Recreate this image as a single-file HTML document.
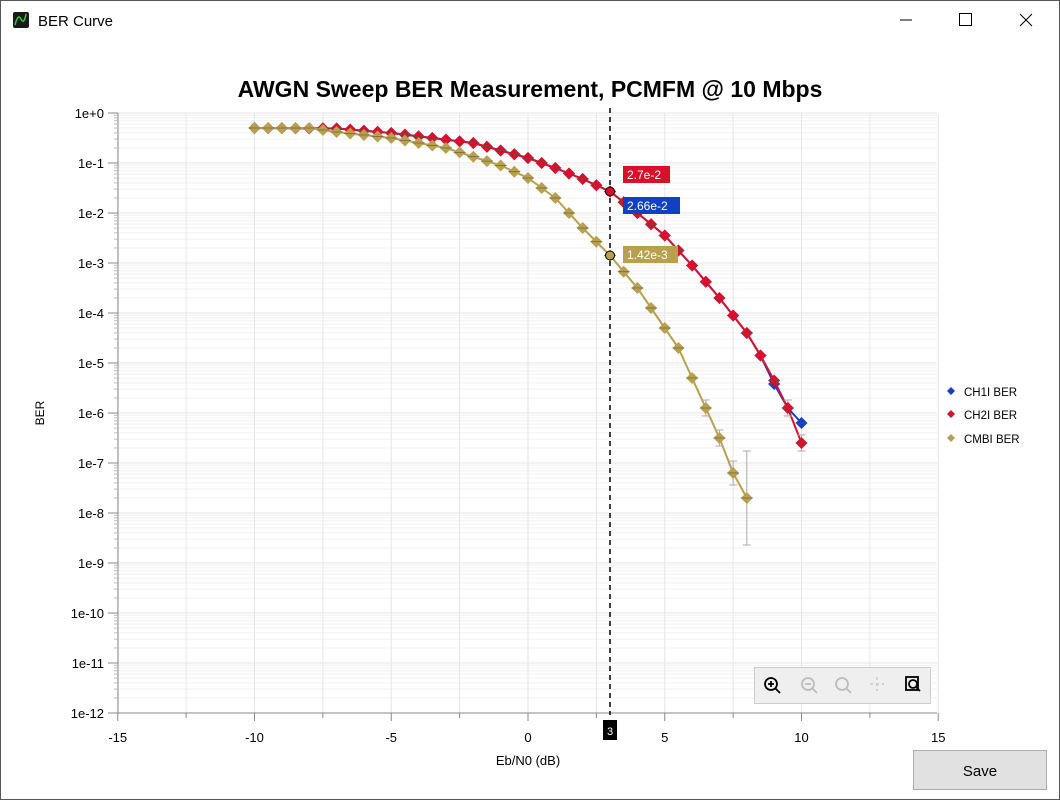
<!DOCTYPE html>
<html><head><meta charset="utf-8">
<style>
html,body{margin:0;padding:0;background:#fff;width:1060px;height:800px;overflow:hidden;font-family:"Liberation Sans",sans-serif;}
</style></head><body>
<svg id="s" width="1060" height="800" xmlns="http://www.w3.org/2000/svg" font-family="Liberation Sans, sans-serif">
<rect x="0.5" y="0.5" width="1059" height="799" fill="#fff" stroke="#555"/>
<rect x="13" y="12" width="16" height="16" rx="2" fill="#1a1a1a"/>
<path d="M15 25 q3 -12 6 -6 t5 -5" stroke="#3c3" stroke-width="1.5" fill="none"/>
<text x="38" y="26" font-size="15" fill="#000">BER Curve</text>
<line x1="900" y1="20" x2="912" y2="20" stroke="#000"/>
<rect x="959.5" y="13.5" width="12" height="12" fill="none" stroke="#000"/>
<path d="M1020 14 l12 12 M1032 14 l-12 12" stroke="#000"/>
<text x="530" y="97" font-size="23" font-weight="bold" text-anchor="middle" fill="#000">AWGN Sweep BER Measurement, PCMFM @ 10 Mbps</text>
<g id="grid"></g>
<g id="axes"></g>
<g id="data"></g>
<text transform="translate(44,413) rotate(-90)" font-size="12" text-anchor="middle" fill="#000">BER</text>
<text x="528" y="765" font-size="13" text-anchor="middle" fill="#000">Eb/N0 (dB)</text>
<g font-size="11.5" fill="#000">
<path d="M951 387 l4 4 -4 4 -4 -4z" fill="#1240c0"/><text x="964" y="396">CH1I BER</text>
<path d="M951 410 l4 4 -4 4 -4 -4z" fill="#d8102a"/><text x="964" y="419">CH2I BER</text>
<path d="M951 434 l4 4 -4 4 -4 -4z" fill="#b9a04e"/><text x="964" y="443">CMBI BER</text>
</g>
<rect x="754.5" y="667.5" width="176" height="36" fill="#efefef" stroke="#ccc"/>
<g fill="none" stroke-width="1.8">
<circle cx="771" cy="684" r="6" stroke="#000"/><path d="M775 688 l5 5 M768 684 h6 M771 681 v6" stroke="#000"/>
<circle cx="808" cy="684" r="6" stroke="#bbb"/><path d="M812 688 l5 5 M805 684 h6" stroke="#bbb"/>
<circle cx="842" cy="684" r="6" stroke="#bbb"/><path d="M846 688 l5 5" stroke="#bbb"/>
<path d="M877 677 v14 M870 684 h14" stroke="#ccc" stroke-dasharray="3 3"/>
<rect x="906" y="677" width="12" height="13" stroke="#000"/><circle cx="913" cy="684" r="4" stroke="#000"/><path d="M916 687 l4 4" stroke="#000"/>
</g>
<rect x="913.5" y="750.5" width="133" height="39" fill="#e1e1e1" stroke="#adadad"/>
<text x="980" y="776" font-size="15" text-anchor="middle" fill="#000">Save</text>
</svg>
<script>
const NS="http://www.w3.org/2000/svg";
function el(p,t,a,txt){const e=document.createElementNS(NS,t);for(const k in a)e.setAttribute(k,a[k]);if(txt!==undefined)e.textContent=txt;document.getElementById(p).appendChild(e);return e;}
const X=x=>528+x*27.35, Y=l=>113-l*50;
const L=118,R=937,T=113,B=713;
// grid
for(let d=0;d<12;d++){for(let m=2;m<=9;m++){const y=Y(-d-1+Math.log10(m));el("grid","line",{x1:L,x2:R,y1:y,y2:y,stroke:"#f0f0f0"});}
el("grid","line",{x1:L,x2:R,y1:Y(-d),y2:Y(-d),stroke:"#e6e6e6"});}
for(let v=-15;v<=15;v+=2.5){el("grid","line",{x1:X(v),x2:X(v),y1:T,y2:B,stroke:"#e6e6e6"});}
// axes
el("axes","line",{x1:L,x2:L,y1:T,y2:B,stroke:"#888"});
el("axes","line",{x1:L,x2:R,y1:B,y2:B,stroke:"#888"});
for(let d=0;d<=12;d++){const y=Y(-d);el("axes","line",{x1:L-10,x2:L,y1:y,y2:y,stroke:"#888"});
el("axes","text",{x:L-14,y:y+5,"font-size":13,"text-anchor":"end",fill:"#000"},d==0?"1e+0":"1e-"+d);
if(d<12)for(let m=2;m<=9;m++){const yy=Y(-d-1+Math.log10(m));el("axes","line",{x1:L-4,x2:L,y1:yy,y2:yy,stroke:"#bbb"});}}
for(let v=-15;v<=15;v+=2.5){const x=X(v);el("axes","line",{x1:x,x2:x,y1:B,y2:B+(v%5==0?8:5),stroke:"#888"});
if(v%5==0)el("axes","text",{x:x,y:B+29,"font-size":13,"text-anchor":"middle",fill:"#000"},""+v);}
function interp(cp,x){for(let i=0;i<cp.length-1;i++){if(x<=cp[i+1][0]){const t=(x-cp[i][0])/(cp[i+1][0]-cp[i][0]);return cp[i][1]+t*(cp[i+1][1]-cp[i][1]);}}return cp[cp.length-1][1];}
const red=[[-10,-0.3],[-7,-0.31],[-5,-0.4],[-2,-0.6],[0,-0.9],[1,-1.1],[2,-1.32],[3,-1.57],[4,-2.0],[5,-2.45],[6,-3.05],[7,-3.7],[8,-4.4],[8.5,-4.85],[9,-5.35],[9.5,-5.9],[10,-6.6]];
const blue=red.map(p=>[p[0],p[0]==9?-5.42:p[0]==10?-6.2:p[1]]);
const gold=[[-10,-0.3],[-8,-0.3],[-7,-0.38],[-5,-0.5],[-3,-0.7],[-1,-1.05],[0,-1.3],[1,-1.7],[2,-2.3],[3,-2.85],[4,-3.5],[5,-4.3],[5.5,-4.7],[6,-5.3],[6.5,-5.9],[7,-6.5],[7.5,-7.2],[8,-7.7]];
function series(cp,xmax,col,err){let pts=[];for(let x=-10;x<=xmax+1e-9;x+=0.5)pts.push([X(x),Y(interp(cp,x)),x]);
el("data","polyline",{points:pts.map(p=>p[0]+","+p[1]).join(" "),fill:"none",stroke:col,"stroke-width":2});
for(const p of pts){if(err&&err(p[2])){const e=err(p[2]);el("data","path",{d:`M${p[0]} ${p[1]-e} v${2*e} M${p[0]-4} ${p[1]-e} h8 M${p[0]-4} ${p[1]+e} h8`,stroke:"#aaa",fill:"none"});}
el("data","path",{d:`M${p[0]} ${p[1]-6} l6 6 -6 6 -6 -6z`,fill:col});
el("data","line",{x1:p[0]-6,x2:p[0]+6,y1:p[1],y2:p[1],stroke:"#555","stroke-width":0.6});}}
series(blue,10,"#1240c0");
series(red,10,"#d8102a",x=>x>=9.5?8:0);
series(gold,8,"#b9a04e",x=>x>=6.5?(x==8?47:x==7.5?12:8):0);
// cursor
el("data","line",{x1:610,x2:610,y1:108,y2:715,stroke:"#000","stroke-dasharray":"5 4","stroke-width":1.5});
el("data","rect",{x:603,y:720,width:14,height:20,fill:"#000"});
el("data","text",{x:610,y:735,"font-size":11,"text-anchor":"middle",fill:"#fff"},"3");
el("data","circle",{cx:610,cy:Y(-1.57),r:4.5,fill:"#d8102a",stroke:"#000"});
el("data","circle",{cx:610,cy:Y(-2.85),r:4.5,fill:"#b9a04e",stroke:"#000"});
function lab(x,y,w,col,t){el("data","rect",{x:x,y:y,width:w,height:17,fill:col});el("data","text",{x:x+4,y:y+13,"font-size":12,fill:"#fff"},t);}
lab(623,166,47,"#d8102a","2.7e-2");
lab(623,197,57,"#1240c0","2.66e-2");
lab(623,246,55,"#b9a04e","1.42e-3");
</script>
</body></html>
